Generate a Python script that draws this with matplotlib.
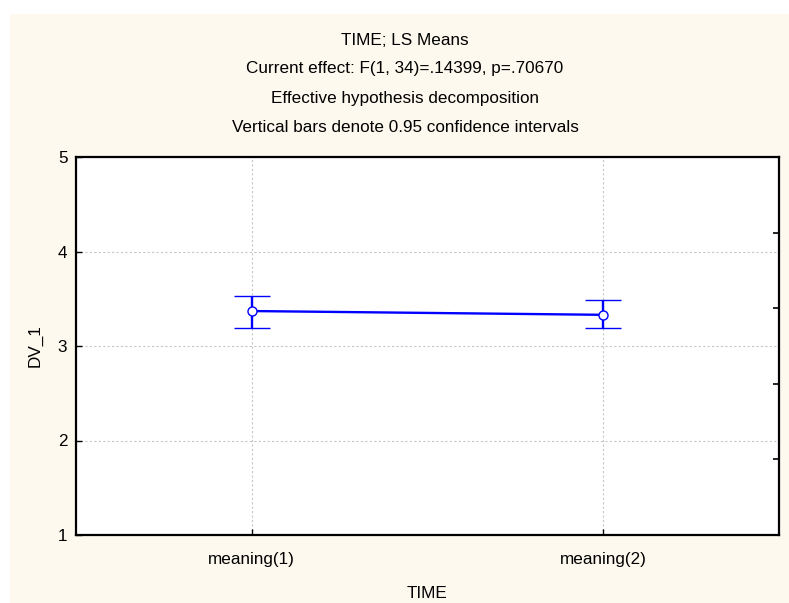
import matplotlib
matplotlib.use("Agg")
import matplotlib.pyplot as plt
from matplotlib.patches import Rectangle
import numpy as np

# ---- data ----
categories = ['meaning(1)', 'meaning(2)']
means = [3.37, 3.33]
ci_lower = [3.19, 3.19]
ci_upper = [3.53, 3.49]
y_ticks = [1, 2, 3, 4, 5]
right_ticks = [1.8, 2.6, 3.4, 4.2]
title_lines = [
    'TIME; LS Means',
    'Current effect: F(1, 34)=.14399, p=.70670',
    'Effective hypothesis decomposition',
    'Vertical bars denote 0.95 confidence intervals',
]
x_label = 'TIME'
y_label = 'DV_1'

plt.rcParams['font.family'] = ['Liberation Sans', 'DejaVu Sans']
FS = 12.3

W, H = 789, 603
fig = plt.figure(figsize=(W / 100, H / 100), dpi=100)
fig.patch.set_facecolor('white')
cream = '#FEF9EE'
fig.patches.append(Rectangle((10 / W, 0), 1 - 10 / W, 1 - 14 / H,
                             transform=fig.transFigure, facecolor=cream,
                             edgecolor='none', zorder=-10))

left, right, top, bottom = 75.7, 779, 157, 535
ax = fig.add_axes([left / W, 1 - bottom / H, (right - left) / W, (bottom - top) / H])
ax.set_facecolor('white')

x = np.arange(len(categories))
m = np.array(means)
lo = np.array(ci_lower)
hi = np.array(ci_upper)
ax.errorbar(x, m, yerr=[m - lo, hi - m], color='#0000FF', lw=1.7,
            elinewidth=1.7, capsize=13, capthick=2.3,
            marker='o', ms=6.5, mfc='white', mec='#0000FF', mew=1, zorder=5)

ax.set_xlim(-0.5, len(categories) - 0.5)
ax.set_ylim(min(y_ticks), max(y_ticks))
ax.set_xticks(x)
ax.set_xticklabels(categories, fontsize=FS)
ax.set_yticks(y_ticks)
ax.set_yticklabels([str(v) for v in y_ticks], fontsize=FS)
ax.tick_params(axis='both', direction='in', length=4, width=1, color='black')
ax.tick_params(axis='x', pad=12)
ax.tick_params(axis='y', pad=6)
ax.grid(True, linestyle=(0, (2, 2)), color='#C8C8C8', lw=0.8)
for s in ax.spines.values():
    s.set_linewidth(1.6)
    s.set_color('black')

ax.set_xlabel(x_label, fontsize=FS, labelpad=14)
ax.set_ylabel(y_label, fontsize=FS, labelpad=11)

ax2 = ax.twinx()
ax2.set_ylim(min(y_ticks), max(y_ticks))
ax2.set_yticks(right_ticks)
ax2.set_yticklabels([])
ax2.tick_params(axis='y', direction='in', length=4, width=1.2, color='black')
for s in ax2.spines.values():
    s.set_visible(False)

cx = 405 / W
for i, (line, yc) in enumerate(zip(title_lines, [40.7, 69, 98.3, 127.3])):
    fig.text(cx, 1 - yc / H, line, ha='center', va='center', fontsize=FS)

fig.savefig('out.png', dpi=100, facecolor=fig.get_facecolor())
